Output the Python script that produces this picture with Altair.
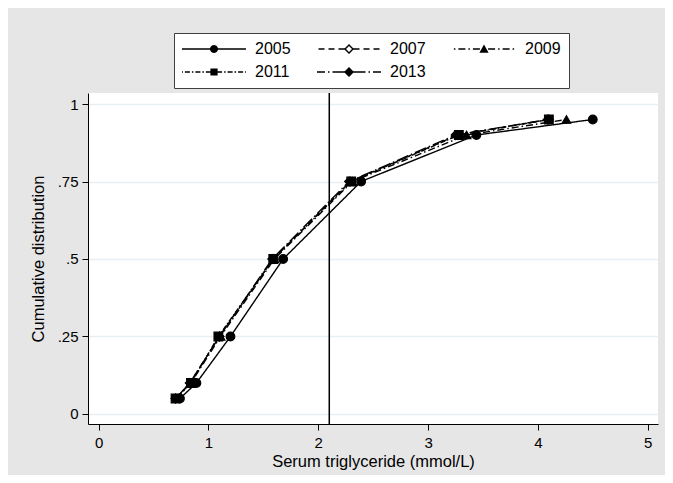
import math
import altair as alt
import pandas as pd

# ---------------- data ----------------
years = ["2005", "2007", "2009", "2011", "2013"]
quantiles = [0.05, 0.10, 0.25, 0.50, 0.75, 0.90, 0.95]
tg_2005 = [0.74, 0.89, 1.20, 1.68, 2.39, 3.44, 4.50]
tg_2007 = [0.70, 0.83, 1.10, 1.59, 2.29, 3.27, 4.10]
tg_2009 = [0.71, 0.84, 1.11, 1.60, 2.31, 3.35, 4.26]
tg_2011 = [0.70, 0.84, 1.09, 1.59, 2.30, 3.28, 4.10]
tg_2013 = [0.70, 0.83, 1.10, 1.58, 2.28, 3.25, 4.09]
cutoff = [2.1]
x_ticks = [0, 1, 2, 3, 4, 5]
y_ticks = [0, 0.25, 0.5, 0.75, 1]

series = {"2005": tg_2005, "2007": tg_2007, "2009": tg_2009,
          "2011": tg_2011, "2013": tg_2013}
rows = []
for yr in years:
    for q, v in zip(quantiles, series[yr]):
        rows.append({"year": yr, "p": q, "tg": v})
df = pd.DataFrame(rows)
cut_df = pd.DataFrame({"tg": cutoff})

# ---------------- styles ----------------
FONT = "Liberation Sans"
BG = "#e6e6e7"
GRID = "#e8eff2"
dash_styles = [[1, 0], [6, 4], [7, 3, 1.5, 3], [5, 2, 1.5, 2], [12, 3, 1.5, 3]]
marker_shapes = ["circle", "diamond", "triangle-up", "square", "diamond"]
marker_fills = ["black", "white", "black", "black", "black"]

# legend symbols: custom paths (line + marker) built from filled pieces.
SYM_BOX = 16.0          # sqrt(symbolSize)
U = SYM_BOX / 2.0       # px per path unit
LINE_W = 64.0           # drawn symbol width (px)
SHIFT = LINE_W / 2.0 - U
HT = 0.7                # half line thickness (px)


def pt(x, y):
    return f"{(x + SHIFT) / U:.4f},{y / U:.4f}"


def rect(x0, x1):
    return f"M{pt(x0, -HT)}L{pt(x1, -HT)}L{pt(x1, HT)}L{pt(x0, HT)}Z"


def side(start, end, pattern, sign):
    out = []
    pos = start
    i = 0
    on = True
    while pos < end - 0.01:
        L = pattern[i % len(pattern)]
        if on and L > 0:
            a, b = pos, min(pos + L, end)
            if sign > 0:
                out.append(rect(a, b))
            else:
                out.append(rect(-b, -a))
        pos += L
        on = not on
        i += 1
    return "".join(out)


def poly(points):
    return "M" + "L".join(pt(x, y) for x, y in points) + "Z"


def marker_path(kind):
    if kind == "circle":
        r = 4.0
        pts = [(r * math.cos(2 * math.pi * k / 24), r * math.sin(2 * math.pi * k / 24)) for k in range(24)]
        return poly(pts), r
    if kind == "diamond_hollow":
        o, i = 5.0, 3.0
        return poly([(0, -o), (o, 0), (0, o), (-o, 0)]) + poly([(0, -i), (-i, 0), (0, i), (i, 0)]), o
    if kind == "triangle":
        r = 4.6
        return poly([(0, -r), (r, r * 0.8), (-r, r * 0.8)]), r
    if kind == "square":
        s = 3.6
        return poly([(-s, -s), (s, -s), (s, s), (-s, s)]), s
    if kind == "diamond":
        o = 5.0
        return poly([(0, -o), (o, 0), (0, o), (-o, 0)]), o


legend_kinds = ["circle", "diamond_hollow", "triangle", "square", "diamond"]
legend_patterns = [[100], [6, 4], [7, 3, 1.5, 3], [5, 2, 1.5, 2], [12, 3, 1.5, 3]]
legend_paths = []
half = LINE_W / 2.0
for kind, pat in zip(legend_kinds, legend_patterns):
    mp, r = marker_path(kind)
    gap = r - 0.5
    legend_paths.append(side(gap, half, pat, -1) + side(gap, half, pat, 1) + mp)

# ---------------- encodings ----------------
x_enc = alt.X(
    "tg:Q",
    scale=alt.Scale(domain=[-0.0975, 5.094], nice=False, zero=False),
    axis=alt.Axis(values=x_ticks, title="Serum triglyceride (mmol/L)", grid=False,
                  format="d", labelPadding=5, titlePadding=3),
)
y_enc = alt.Y(
    "p:Q",
    scale=alt.Scale(domain=[-0.0323, 1.0355], nice=False, zero=False),
    axis=alt.Axis(values=y_ticks, title="Cumulative distribution", grid=True,
                  gridColor=GRID, gridWidth=1.5,
                  labelExpr="datum.value == 0 ? '0' : datum.value == 1 ? '1' : replace(format(datum.value, '.2~f'), '0.', '.')",
                  labelPadding=4, titlePadding=11),
)

rule = alt.Chart(cut_df).mark_rule(color="black", strokeWidth=1.5).encode(x=x_enc)

lines = alt.Chart(df).mark_line(color="black", strokeWidth=1.4).encode(
    x=x_enc,
    y=y_enc,
    strokeDash=alt.StrokeDash("year:N", scale=alt.Scale(domain=years, range=dash_styles), legend=None),
)

points = alt.Chart(df).mark_point(stroke="black", strokeWidth=1.2, size=75, opacity=1, fillOpacity=1).encode(
    x=x_enc,
    y=y_enc,
    shape=alt.Shape("year:N", scale=alt.Scale(domain=years, range=marker_shapes), legend=None),
    fill=alt.Fill("year:N", scale=alt.Scale(domain=years, range=marker_fills), legend=None),
)

legend_layer = alt.Chart(df).transform_filter("false").mark_point(
    filled=True, color="black", opacity=1
).encode(
    shape=alt.Shape(
        "year:N",
        scale=alt.Scale(domain=years, range=legend_paths),
        legend=alt.Legend(
            title=None, orient="none", legendX=86, legendY=-60, columns=3,
            direction="horizontal",
            columnPadding=26, rowPadding=7, padding=8,
            strokeColor="#404040", fillColor="white",
            labelFont=FONT, labelFontSize=16, labelColor="black",
            labelOffset=LINE_W - SYM_BOX + 9,
            symbolSize=SYM_BOX * SYM_BOX, symbolStrokeWidth=0,
        ),
    )
)

chart = (
    alt.layer(rule, lines, points, legend_layer)
    .resolve_scale(shape="independent")
    .properties(
        width=570, height=331,
        autosize=alt.AutoSizeParams(type="none"),
        padding={"left": 80, "top": 85, "right": 7, "bottom": 51},
        background=BG,
        view=alt.ViewBackground(fill="white", strokeWidth=0),
    )
    .configure(background=BG)
    .configure_view(fill="white", strokeWidth=0)
    .configure_axis(
        domainColor="black", domainWidth=1, tickColor="black", tickWidth=1, tickSize=6,
        labelFont=FONT, labelFontSize=15, labelColor="black",
        titleFont=FONT, titleFontSize=16.5, titleFontWeight="normal", titleColor="black",
    )
)

chart.save("out.html", embed_options={"renderer": "svg", "actions": False})
